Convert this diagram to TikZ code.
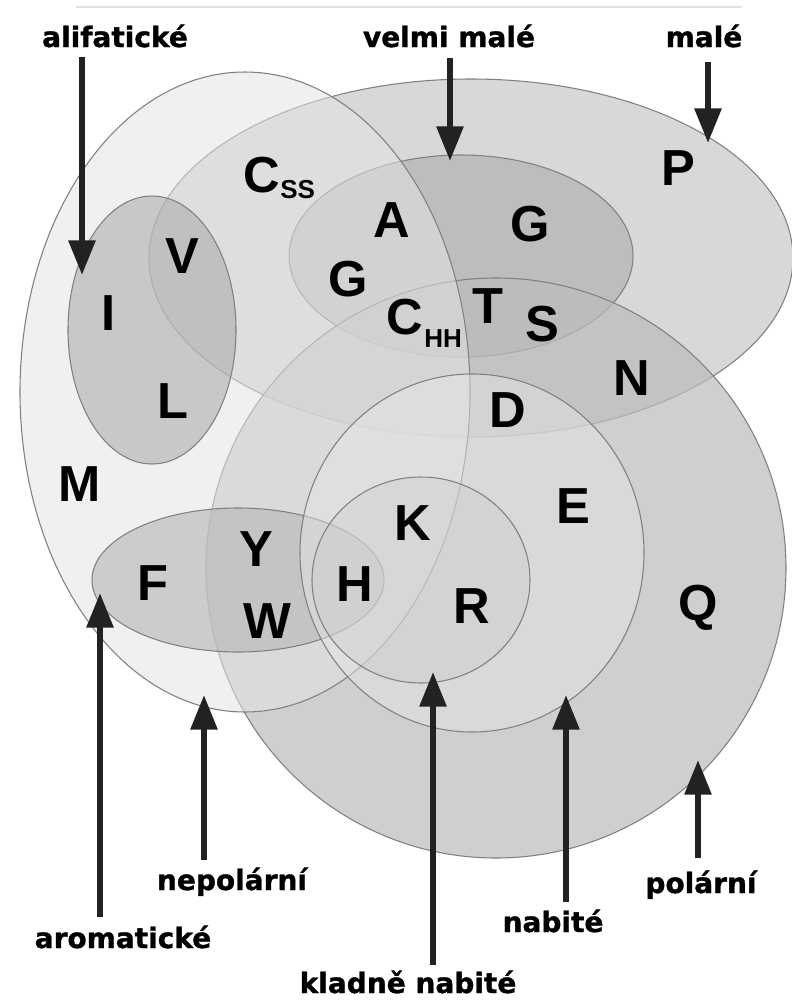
\documentclass[tikz,border=0pt]{standalone}
\usepackage{fontspec}
\setmainfont{Liberation Sans}
\newfontfamily\labfont[BoldFeatures={FakeBold=1.2}]{DejaVu Sans}
\usetikzlibrary{arrows.meta}
\definecolor{arr}{HTML}{222222}
\definecolor{edge}{HTML}{808080}
\definecolor{topline}{HTML}{E0E0E0}
\definecolor{smallfill}{HTML}{D8D8D8}
\definecolor{polarfill}{HTML}{BCBCBC}
\definecolor{nonpolfill}{HTML}{E4E4E4}
\definecolor{alifill}{HTML}{A7A7A7}
\definecolor{aromfill}{HTML}{B8B8B8}
\definecolor{chargefill}{HTML}{E6E6E6}
\definecolor{posfill}{HTML}{C8C8C8}
\begin{document}
\begin{tikzpicture}[x=0.75pt,y=-0.75pt,
  region/.style={draw=edge, line width=0.8pt},
  letter/.style={font=\bfseries\fontsize{38}{40}\selectfont, anchor=base, inner sep=0pt},
  subtext/.style={font=\bfseries\fontsize{19.5}{20}\selectfont, anchor=base west, inner sep=0pt},
  lab/.style={font=\labfont\bfseries\fontsize{21}{24}\selectfont, anchor=base, inner sep=0pt},
  pointer/.style={draw=arr, line width=4.5pt, -{Triangle[length=26pt,width=19.5pt]}}]
\useasboundingbox (0,0) rectangle (792,1000);
% top rule
\draw[topline, line width=1.5pt] (76,7) -- (742,7);
% regions (layered)
\draw[region, fill=smallfill] (471,258) ellipse [x radius=322, y radius=179];
\draw[region, fill=black, fill opacity=0.12] (461,256) ellipse [x radius=172, y radius=101];
\draw[region, fill=polarfill, fill opacity=0.72] (496,568) circle [radius=290];
\draw[region, fill=nonpolfill, fill opacity=0.55] (245,392) ellipse [x radius=225, y radius=320];
\draw[region, fill=alifill, fill opacity=0.54] (152,330) ellipse [x radius=84, y radius=134];
\draw[region, fill=aromfill, fill opacity=0.64] (238,580) ellipse [x radius=146, y radius=72];
\draw[region, fill=chargefill, fill opacity=0.48] (472,553) ellipse [x radius=172, y radius=179];
\draw[region, fill=posfill, fill opacity=0.35] (421,580) ellipse [x radius=109, y radius=103];
% amino acid letters
\node[letter] (css) at (262,192) {C};
\node[subtext] (cssub) at (280,198) {SS};
\node[letter] (a) at (392,237) {A};
\node[letter] (g2) at (530,241) {G};
\node[letter] (g1) at (348,296) {G};
\node[letter] (chh) at (405,334) {C};
\node[subtext] (chhsub) at (424,347) {HH};
\node[letter] (t) at (488,323) {T};
\node[letter] (s) at (542,341) {S};
\node[letter] (p) at (678,185) {P};
\node[letter] (n) at (632,395) {N};
\node[letter] (d) at (508,427) {D};
\node[letter] (e) at (573,523) {E};
\node[letter] (k) at (413,540) {K};
\node[letter] (r) at (472,623) {R};
\node[letter] (h) at (355,601) {H};
\node[letter] (y) at (256,566) {Y};
\node[letter] (w) at (267,638) {W};
\node[letter] (f) at (153,600) {F};
\node[letter] (m) at (80,501) {M};
\node[letter] (v) at (182,273) {V};
\node[letter] (i) at (109,330) {I};
\node[letter] (l) at (173,418) {L};
\node[letter] (q) at (698,620) {Q};
% labels
\node[lab] (lali) at (115,47) {alifatické};
\node[lab] (lvm) at (449,47) {velmi malé};
\node[lab] (lmal) at (704,47) {malé};
\node[lab] (lnep) at (232,890) {nepolární};
\node[lab] (larom) at (123,948) {aromatické};
\node[lab] (lklad) at (408,993) {kladně nabité};
\node[lab] (lnab) at (553,932) {nabité};
\node[lab] (lpol) at (701,893) {polární};
% arrow end points
\coordinate (aliS) at (82,57);   \coordinate (aliT) at (82,275);
\coordinate (vmS) at (450,58);   \coordinate (vmT) at (450,161);
\coordinate (malS) at (708,62);  \coordinate (malT) at (708,143);
\coordinate (aroS) at (100,917); \coordinate (aroT) at (100,593);
\coordinate (nepS) at (204,860); \coordinate (nepT) at (204,695);
\coordinate (klS) at (433,965);  \coordinate (klT) at (433,672);
\coordinate (nabS) at (566,902); \coordinate (nabT) at (566,695);
\coordinate (polS) at (698,858); \coordinate (polT) at (698,760);
\draw[pointer] (aliS) -- (aliT);
\draw[pointer] (vmS) -- (vmT);
\draw[pointer] (malS) -- (malT);
\draw[pointer] (aroS) -- (aroT);
\draw[pointer] (nepS) -- (nepT);
\draw[pointer] (klS) -- (klT);
\draw[pointer] (nabS) -- (nabT);
\draw[pointer] (polS) -- (polT);
\end{tikzpicture}
\end{document}
